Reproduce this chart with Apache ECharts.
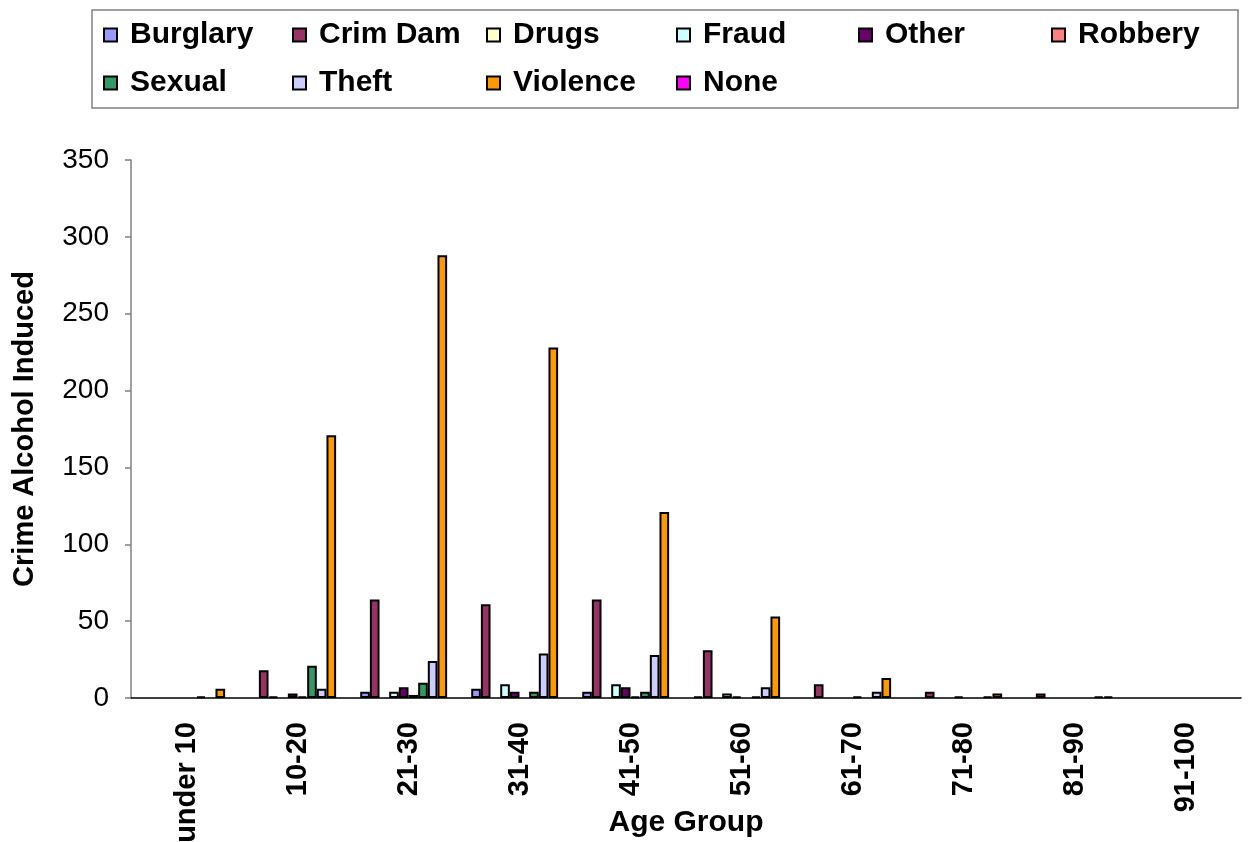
<!DOCTYPE html>
<html>
<head>
<meta charset="utf-8">
<script src="https://cdn.jsdelivr.net/npm/echarts@6/dist/echarts.min.js"></script>
<style>
  html, body { margin: 0; padding: 0; background: #fff; }
  #chart { width: 1249px; height: 842px; }
</style>
</head>
<body>
<div id="chart"></div>
<script>
// Age groups on the category axis
const ageGroups = ['under 10', '10-20', '21-30', '31-40', '41-50', '51-60', '61-70', '71-80', '81-90', '91-100'];

// Alcohol-induced crime counts per offence type, one value per age group
const burglary = [0, 0, 4, 6, 4, 1, 0, 0, 0, 0];
const crimDam  = [0, 18, 64, 61, 64, 31, 9, 4, 3, 0];
const drugs    = [0, 1, 0, 0, 0, 0, 0, 0, 0, 0];
const fraud    = [0, 0, 4, 9, 9, 3, 0, 0, 0, 0];
const other    = [0, 3, 7, 4, 7, 1, 0, 1, 0, 0];
const robbery  = [0, 1, 2, 0, 1, 0, 1, 0, 0, 0];
const sexual   = [1, 21, 10, 4, 4, 1, 0, 0, 0, 0];
const theft    = [0, 6, 24, 29, 28, 7, 4, 1, 1, 0];
const violence = [6, 171, 288, 228, 121, 53, 13, 3, 1, 0];
const none     = [0, 0, 0, 0, 0, 0, 0, 0, 0, 0];

// Y axis ticks
const yTicks = [0, 50, 100, 150, 200, 250, 300, 350];

const seriesDefs = [
  { name: 'Burglary', data: burglary, color: '#9999FF' },
  { name: 'Crim Dam', data: crimDam,  color: '#993366' },
  { name: 'Drugs',    data: drugs,    color: '#FFFFCC' },
  { name: 'Fraud',    data: fraud,    color: '#CCFFFF' },
  { name: 'Other',    data: other,    color: '#660066' },
  { name: 'Robbery',  data: robbery,  color: '#FF8080' },
  { name: 'Sexual',   data: sexual,   color: '#339966' },
  { name: 'Theft',    data: theft,    color: '#CCCCFF' },
  { name: 'Violence', data: violence, color: '#FF9900' },
  { name: 'None',     data: none,     color: '#FF00FF' }
];

const FONT = '"Liberation Sans", Arial, sans-serif';

// Legend laid out as a 6-column, 2-row grid
const legendSlots = [
  [103, 20], [292, 20], [486, 20], [676, 20], [858, 20], [1051, 20],
  [103, 68], [292, 68], [486, 68], [676, 68]
];
const legends = seriesDefs.map((s, i) => ({
  data: [s.name],
  left: legendSlots[i][0],
  top: legendSlots[i][1],
  orient: 'horizontal',
  padding: 0,
  itemWidth: 13,
  itemHeight: 13,
  icon: 'rect',
  selectedMode: false,
  itemStyle: { borderColor: '#000', borderWidth: 2 },
  textStyle: {
    fontFamily: FONT, fontSize: 30, fontWeight: 'bold', color: '#000',
    lineHeight: 30, padding: [0, 0, 0, 8]
  }
}));

const chart = echarts.init(document.getElementById('chart'), null, { renderer: 'canvas' });

chart.setOption({
  backgroundColor: '#fff',
  animation: false,
  graphic: [{
    type: 'rect',
    shape: { x: 92, y: 10, width: 1146, height: 98 },
    style: { fill: 'none', stroke: '#808080', lineWidth: 1.5 },
    z: 0
  }],
  legend: legends,
  grid: {
    left: 131, right: 8, top: 160, bottom: 144,
    containLabel: false,
    outerBoundsMode: 'none'
  },
  xAxis: {
    type: 'category',
    data: ageGroups,
    name: 'Age Group',
    nameLocation: 'middle',
    nameGap: 110,
    nameMoveOverlap: false,
    nameTextStyle: { fontFamily: FONT, fontSize: 30, fontWeight: 'bold', color: '#000' },
    axisLine: { lineStyle: { color: '#000', width: 1.5 } },
    axisTick: { length: 7, lineStyle: { color: '#808080', width: 1.5 } },
    axisLabel: {
      rotate: 90, margin: 24, interval: 0,
      fontFamily: FONT, fontSize: 29, fontWeight: 'bold', color: '#000'
    }
  },
  yAxis: {
    type: 'value',
    min: yTicks[0],
    max: yTicks[yTicks.length - 1],
    interval: yTicks[1] - yTicks[0],
    name: 'Crime Alcohol Induced',
    nameLocation: 'middle',
    nameRotate: 90,
    nameGap: 92,
    nameMoveOverlap: false,
    nameTextStyle: { fontFamily: FONT, fontSize: 29, fontWeight: 'bold', color: '#000' },
    splitLine: { show: false },
    axisLine: { show: true, lineStyle: { color: '#808080', width: 1.5 } },
    axisTick: { show: true, length: 6, lineStyle: { color: '#808080', width: 1.5 } },
    axisLabel: { margin: 22, fontFamily: FONT, fontSize: 28, color: '#000' }
  },
  series: seriesDefs.map(s => ({
    name: s.name,
    type: 'bar',
    barGap: '0%',
    barCategoryGap: '13%',
    // zero counts draw no bar
    data: s.data.map(v => (v === 0 ? null : v)),
    itemStyle: { color: s.color, borderColor: '#000', borderWidth: 2 }
  }))
});
</script>
</body>
</html>
